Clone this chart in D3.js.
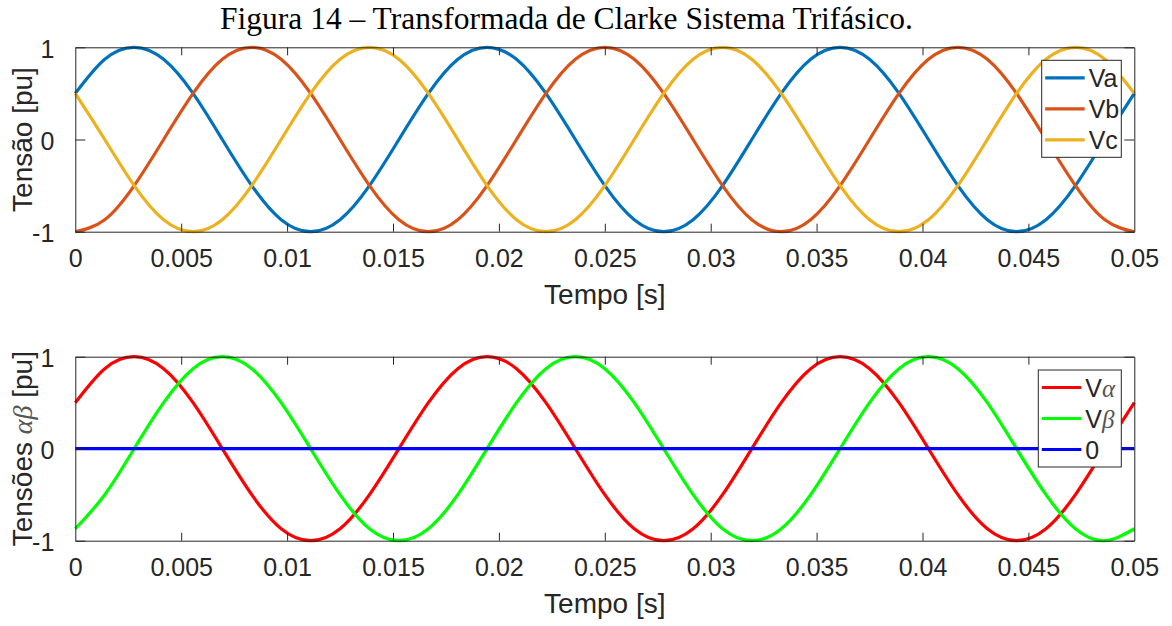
<!DOCTYPE html>
<html>
<head>
<meta charset="utf-8">
<script src="https://cdn.jsdelivr.net/npm/d3@7"></script>
<style>
  body { margin: 0; background: #fff; }
  svg { display: block; }
  .tick text { font-family: "Liberation Sans", Arial, sans-serif; fill: #262626; }
</style>
</head>
<body>
<div id="chart"></div>
<script>
// sample times [s], one sample every 30 electrical degrees (60 Hz)
const tempo = [0, 0.00139, 0.00278, 0.00417, 0.00556, 0.00694, 0.00833, 0.00972, 0.01111, 0.0125,
	0.01389, 0.01528, 0.01667, 0.01806, 0.01944, 0.02083, 0.02222, 0.02361, 0.025, 0.02639,
	0.02778, 0.02917, 0.03056, 0.03194, 0.03333, 0.03472, 0.03611, 0.0375, 0.03889, 0.04028,
	0.04167, 0.04306, 0.04444, 0.04583, 0.04722, 0.04861, 0.05];

const va = [0.5, 0.87, 1, 0.87, 0.5, 0, -0.5, -0.87, -1, -0.87, -0.5, 0,
	0.5, 0.87, 1, 0.87, 0.5, 0, -0.5, -0.87, -1, -0.87, -0.5, 0,
	0.5, 0.87, 1, 0.87, 0.5, 0, -0.5, -0.87, -1, -0.87, -0.5, 0, 0.5];
const vb = [-1, -0.87, -0.5, 0, 0.5, 0.87, 1, 0.87, 0.5, 0, -0.5, -0.87,
	-1, -0.87, -0.5, 0, 0.5, 0.87, 1, 0.87, 0.5, 0, -0.5, -0.87,
	-1, -0.87, -0.5, 0, 0.5, 0.87, 1, 0.87, 0.5, 0, -0.5, -0.87, -1];
const vc = [0.5, 0, -0.5, -0.87, -1, -0.87, -0.5, 0, 0.5, 0.87, 1, 0.87,
	0.5, 0, -0.5, -0.87, -1, -0.87, -0.5, 0, 0.5, 0.87, 1, 0.87,
	0.5, 0, -0.5, -0.87, -1, -0.87, -0.5, 0, 0.5, 0.87, 1, 0.87, 0.5];

const valpha = [0.5, 0.87, 1, 0.87, 0.5, 0, -0.5, -0.87, -1, -0.87, -0.5, 0,
	0.5, 0.87, 1, 0.87, 0.5, 0, -0.5, -0.87, -1, -0.87, -0.5, 0,
	0.5, 0.87, 1, 0.87, 0.5, 0, -0.5, -0.87, -1, -0.87, -0.5, 0, 0.5];
const vbeta = [-0.87, -0.5, 0, 0.5, 0.87, 1, 0.87, 0.5, 0, -0.5, -0.87, -1,
	-0.87, -0.5, 0, 0.5, 0.87, 1, 0.87, 0.5, 0, -0.5, -0.87, -1,
	-0.87, -0.5, 0, 0.5, 0.87, 1, 0.87, 0.5, 0, -0.5, -0.87, -1, -0.87];
const vzero = [0, 0, 0, 0, 0, 0, 0, 0, 0, 0, 0, 0, 0, 0, 0, 0, 0, 0, 0,
	0, 0, 0, 0, 0, 0, 0, 0, 0, 0, 0, 0, 0, 0, 0, 0, 0, 0];

const xTicks = [0, 0.005, 0.01, 0.015, 0.02, 0.025, 0.03, 0.035, 0.04, 0.045, 0.05];
const yTicks = [-1, 0, 1];

const W = 1172, H = 626;
const left = 75.3, right = 1134.3;
const AXC = "#262626";
const SANS = '"Liberation Sans", Arial, sans-serif';

const svg = d3.select("#chart").append("svg")
	.attr("width", W).attr("height", H);

svg.append("text")
	.attr("x", 566.5).attr("y", 28.5)
	.attr("text-anchor", "middle")
	.style("font-family", '"Liberation Serif", "Times New Roman", serif')
	.style("font-size", "31.5px")
	.attr("fill", "#000")
	.text("Figura 14 – Transformada de Clarke Sistema Trifásico.");

const xScale = d3.scaleLinear().domain([0, 0.05]).range([left, right]);

const drawPanel = ({ top, bottom, series, ylabel, legend }) => {
	const yScale = d3.scaleLinear().domain([-1, 1]).range([bottom, top]);
	const g = svg.append("g");

	// curves
	const line = d3.line()
		.x((d, i) => xScale(tempo[i]))
		.y(d => yScale(d))
		.curve(d3.curveNatural);
	series.forEach(s => {
		g.append("path")
			.datum(s.values)
			.attr("d", line)
			.attr("fill", "none")
			.attr("stroke", s.color)
			.attr("stroke-width", 3.2);
	});

	// axes (MATLAB-style box, inward ticks)
	const fmt = d => d === 0 ? "0" : String(d);
	const xa = g.append("g").attr("transform", `translate(0,${bottom})`)
		.call(d3.axisBottom(xScale).tickValues(xTicks).tickFormat(fmt).tickSizeInner(-8).tickSizeOuter(0).tickPadding(18));
	const xt = g.append("g").attr("transform", `translate(0,${top})`)
		.call(d3.axisTop(xScale).tickValues(xTicks).tickSizeInner(-8).tickSizeOuter(0).tickFormat(""));
	const ya = g.append("g").attr("transform", `translate(${left},0)`)
		.call(d3.axisLeft(yScale).tickValues(yTicks).tickFormat(fmt).tickSizeInner(-10).tickSizeOuter(0).tickPadding(21));
	const yr = g.append("g").attr("transform", `translate(${right},0)`)
		.call(d3.axisRight(yScale).tickValues(yTicks).tickSizeInner(-10).tickSizeOuter(0).tickFormat(""));
	[xa, xt, ya, yr].forEach(a => {
		a.selectAll("line, path").attr("stroke", AXC).attr("stroke-width", 1);
		a.selectAll("text").style("font-size", "25px");
	});
	xa.selectAll(".tick:first-of-type line, .tick:last-of-type line").remove();
	xt.selectAll(".tick:first-of-type line, .tick:last-of-type line").remove();
	ya.selectAll("text").attr("dy", "0.4em");

	g.append("text")
		.attr("x", (left + right) / 2).attr("y", bottom + 72)
		.attr("text-anchor", "middle")
		.style("font-family", SANS).style("font-size", "28px")
		.attr("fill", AXC)
		.text("Tempo [s]");

	const yl = g.append("text")
		.attr("transform", `translate(32,${(top + bottom) / 2}) rotate(-90)`)
		.attr("text-anchor", "middle")
		.style("font-family", SANS).style("font-size", "28px")
		.attr("fill", AXC);
	ylabel.forEach(p => {
		const ts = yl.append("tspan").text(p.text);
		if (p.math) ts.style("font-family", '"Liberation Serif", serif').style("font-style", "italic").attr("fill", "#555");
	});

	// legend
	const lg = g.append("g");
	lg.append("rect")
		.attr("x", legend.x).attr("y", legend.y)
		.attr("width", legend.w).attr("height", legend.h)
		.attr("fill", "#fff").attr("stroke", AXC).attr("stroke-width", 1);
	series.forEach((s, i) => {
		const cy = legend.y + 17.5 + i * 31;
		lg.append("line")
			.attr("x1", legend.x + 3.5).attr("x2", legend.x + 43)
			.attr("y1", cy).attr("y2", cy)
			.attr("stroke", s.color).attr("stroke-width", 3.2);
		const t = lg.append("text")
			.attr("x", legend.x + 47).attr("y", cy + 9)
			.style("font-family", SANS).style("font-size", "25px")
			.attr("fill", AXC);
		s.label.forEach(p => {
			const ts = t.append("tspan").text(p.text);
			if (p.math) ts.style("font-family", '"Liberation Serif", serif').style("font-style", "italic").attr("fill", "#555");
		});
	});
};

drawPanel({
	top: 47.3, bottom: 231.7,
	series: [
		{ values: va, color: "#0072BD", label: [{ text: "Va" }] },
		{ values: vb, color: "#D95319", label: [{ text: "Vb" }] },
		{ values: vc, color: "#EDB120", label: [{ text: "Vc" }] }
	],
	ylabel: [{ text: "Tensão [pu]" }],
	legend: { x: 1041.7, y: 60.3, w: 79.6, h: 97 }
});

drawPanel({
	top: 356.7, bottom: 540.7,
	series: [
		{ values: valpha, color: "#FF0000", label: [{ text: "V" }, { text: "α", math: true }] },
		{ values: vbeta, color: "#00FF00", label: [{ text: "V" }, { text: "β", math: true }] },
		{ values: vzero, color: "#0000FF", label: [{ text: "0" }] }
	],
	ylabel: [{ text: "Tensões " }, { text: "αβ", math: true }, { text: " [pu]" }],
	legend: { x: 1038.3, y: 370, w: 83, h: 97 }
});
</script>
</body>
</html>
